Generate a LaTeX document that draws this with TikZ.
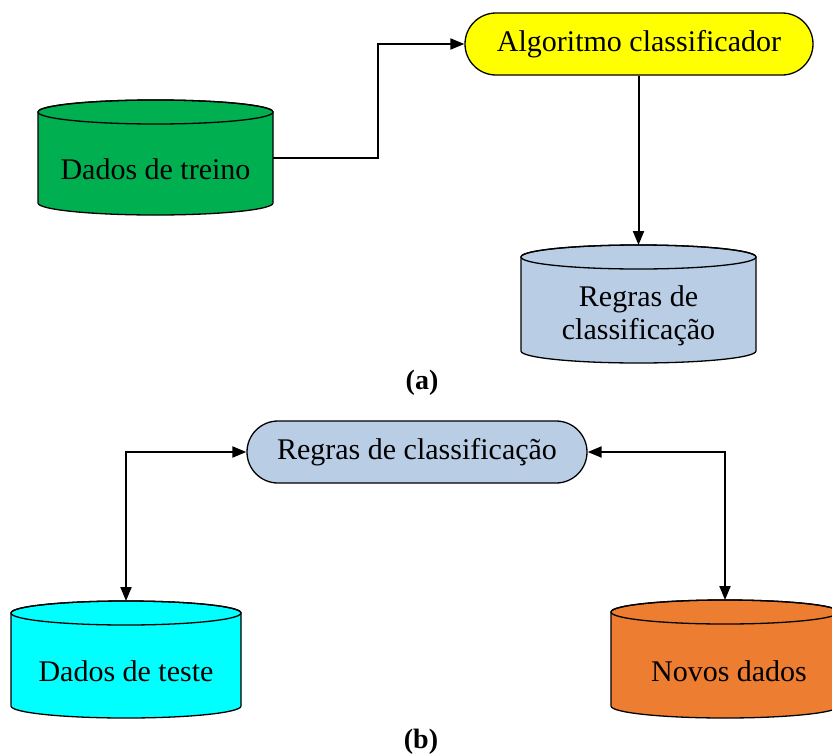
\documentclass[tikz,border=0pt]{standalone}
\usepackage{fontspec}
\setmainfont{Liberation Serif}
\usetikzlibrary{arrows.meta,shapes.misc}
\definecolor{cgreen}{HTML}{00B050}
\definecolor{cyellow}{HTML}{FFFF00}
\definecolor{cblue}{HTML}{B9CDE5}
\definecolor{ccyan}{HTML}{00FFFF}
\definecolor{corange}{HTML}{ED7D31}
\tikzset{
  outline/.style={draw=black, line width=1.3pt},
  stadium/.style={rounded rectangle, outline, inner sep=0pt, font=\fontsize{30}{33}\selectfont},
  conn/.style={line width=2pt, -{Triangle[length=14pt,width=11pt]}},
  bconn/.style={line width=2pt, {Triangle[length=14pt,width=11pt]}-{Triangle[length=14pt,width=11pt]}},
  cyltext/.style={font=\fontsize{30}{33}\selectfont, align=center, inner sep=0pt},
  captext/.style={font=\fontsize{28}{30}\selectfont\bfseries, inner sep=0pt},
  cylbox/.style={inner sep=0pt, outer sep=0pt}
}
% #1 name, #2 x1, #3 x2, #4 ytop, #5 ybot, #6 fill, #7 text
\newcommand\mycyl[7]{%
  \pgfmathsetmacro\myrx{(#3-#2)/2}%
  \path[outline, fill=#6] (#2,#4+12) -- (#2,#5-12)
    arc[start angle=180, end angle=0, x radius=\myrx, y radius=12]
    -- (#3,#4+12)
    arc[start angle=0, end angle=-180, x radius=\myrx, y radius=12] -- cycle;
  \draw[outline] ({(#2+#3)/2},#4+12) ellipse[x radius=\myrx, y radius=12];
  \node[cylbox, minimum width={(#3-#2)*1pt}, minimum height={(#5-#4)*1pt}] (#1) at ({(#2+#3)/2},{(#4+#5)/2}) {};
  \node[cyltext] (#1-t) at ({(#2+#3)/2},{(#4+24+#5)/2}) {#7};
}
\begin{document}
\begin{tikzpicture}[x=1pt,y=-1pt]
\useasboundingbox (0,0) rectangle (832,755);
\clip (0,0) rectangle (832,755);
% (a)
\node[stadium, fill=cyellow, minimum width=348pt, minimum height=62pt] (algo) at (639,44) {Algoritmo classificador};
\mycyl{treino}{38}{273}{100}{215}{cgreen}{Dados de treino}
\mycyl{regras}{521}{756}{245}{363}{cblue}{Regras de\\classificação}
\coordinate (bendA) at (378,0);
\draw[conn] (treino.east) -- (treino.east -| bendA) |- (algo.west);
\draw[conn] (algo.south -| regras.north) -- (regras.north);
\node[captext] (capa) at (422,383) {(a)};
% (b)
\node[stadium, fill=cblue, minimum width=340pt, minimum height=62pt] (regras2) at (417,452) {Regras de classificação};
\mycyl{teste}{11}{241}{601}{718}{ccyan}{Dados de teste}
\mycyl{novos}{611}{839}{600}{718}{corange}{}
\node[cyltext] (novos-label) at (729,671) {Novos dados};
\draw[bconn] (teste.north) |- (regras2.west);
\draw[bconn] (novos.north) |- (regras2.east);
\node[captext] (capb) at (421,742) {(b)};
\end{tikzpicture}
\end{document}
